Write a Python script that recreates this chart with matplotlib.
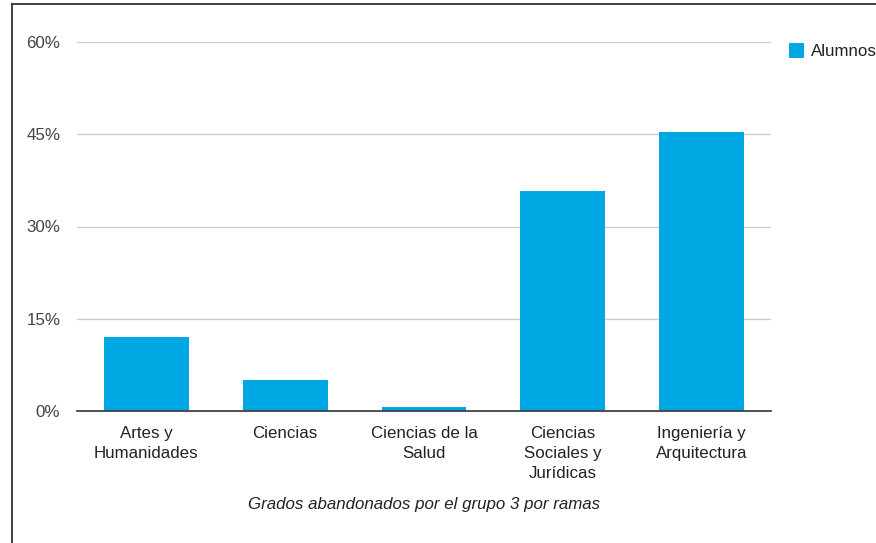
import matplotlib
matplotlib.use("Agg")
import matplotlib.pyplot as plt
from matplotlib.lines import Line2D
from matplotlib.patches import Rectangle

categories = ["Artes y\nHumanidades", "Ciencias", "Ciencias de la\nSalud",
              "Ciencias\nSociales y\nJurídicas", "Ingeniería y\nArquitectura"]
alumnos = [12.0, 5.0, 0.7, 35.8, 45.4]
yticks = [0, 15, 30, 45, 60]
ytick_labels = ["0%", "15%", "30%", "45%", "60%"]
series_name = "Alumnos"
title = "Grados abandonados por el grupo 3 por ramas"

plt.rcParams['font.family'] = ['Liberation Sans', 'DejaVu Sans']

W, H = 876, 543
fig = plt.figure(figsize=(W / 100, H / 100), dpi=100)
ax = fig.add_axes([77 / W, 1 - 411 / H, (771 - 77) / W, (411 - 42) / H])

color = "#00A8E3"
FS = 12.2
x = list(range(len(categories)))
ax.bar(x, alumnos, width=0.61, color=color, zorder=3)

ax.set_xlim(-0.5, len(categories) - 0.5)
ax.set_ylim(0, 60)
ax.set_yticks(yticks)
ax.set_yticklabels(ytick_labels, fontsize=FS, color="#444444")
ax.set_xticks(x)
ax.set_xticklabels(categories, fontsize=FS, color="#222222", linespacing=1.42, va="top")
ax.tick_params(axis="both", length=0)
ax.tick_params(axis="y", pad=12)
ax.tick_params(axis="x", pad=10.5)

for s in ["top", "right", "left"]:
    ax.spines[s].set_visible(False)
ax.spines["bottom"].set_color("#333333")
ax.spines["bottom"].set_linewidth(1.2)
ax.spines["bottom"].set_zorder(4)
ax.yaxis.grid(True, color="#cccccc", linewidth=1)
ax.set_axisbelow(True)

fig.text(424 / W, 1 - 505 / H, title, fontsize=FS, style="italic", color="#222222",
         ha="center", va="center")

# legend drawn manually in figure coords
fig.patches.append(Rectangle((789 / W, 1 - 58 / H), 15 / W, 15 / H,
                             transform=fig.transFigure, facecolor=color,
                             edgecolor="none"))
fig.text(811 / W, 1 - 51 / H, series_name, fontsize=FS, color="#222222",
         va="center", ha="left")

# outer frame (top and left)
fig.add_artist(Line2D([12 / W, 12 / W], [0, 1 - 4 / H], transform=fig.transFigure,
                      color="#333333", linewidth=1.3))
fig.add_artist(Line2D([12 / W, 1], [1 - 4 / H, 1 - 4 / H], transform=fig.transFigure,
                      color="#333333", linewidth=1.3))

fig.savefig("out.png", dpi=100, facecolor="white")
